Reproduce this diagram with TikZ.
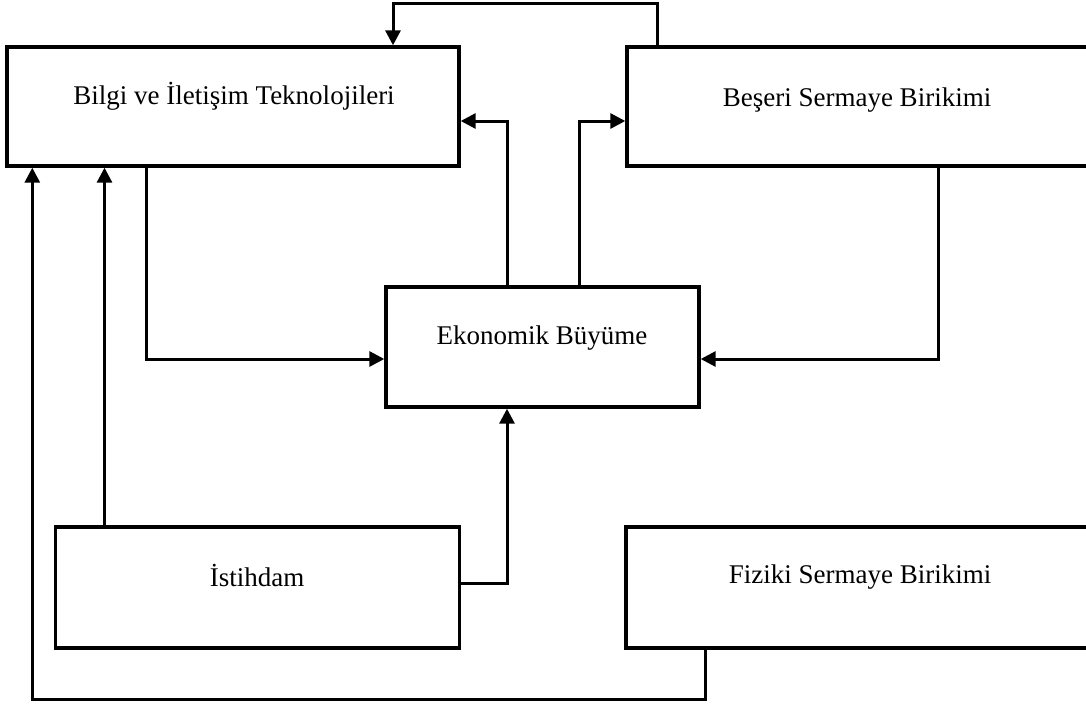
\documentclass[tikz,border=0pt]{standalone}
\usepackage{fontspec}
\setmainfont{Liberation Serif}
\usetikzlibrary{arrows.meta}
\tikzset{
  box/.style={draw=black, line width=3.4pt, rectangle, inner sep=0pt},
  lbl/.style={anchor=base, inner sep=0pt, font=\fontsize{27}{31}\selectfont},
  arr/.style={draw=black, line width=3pt, -{Triangle[length=15pt,width=15pt]}}
}
\begin{document}
\begin{tikzpicture}[x=1pt, y=-1pt]
  \useasboundingbox (0,0) rectangle (1086,704);

  % boxes (the two right-hand boxes run past the right edge)
  \node[box, minimum width=452pt, minimum height=119pt] (bilgi) at (233,106.5) {};
  \node[box, minimum width=465pt, minimum height=119pt] (beseri) at (859.5,106.5) {};
  \node[box, minimum width=313pt, minimum height=120pt] (ekonomik) at (542.5,347) {};
  \node[box, minimum width=404pt, minimum height=121pt] (istihdam) at (257.5,587.5) {};
  \node[box, minimum width=466pt, minimum height=121pt] (fiziki) at (859,587.5) {};

  % box texts
  \node[lbl] (bilgi-t) at (234,104) {Bilgi ve İletişim Teknolojileri};
  \node[lbl] (beseri-t) at (857,106) {Beşeri Sermaye Birikimi};
  \node[lbl] (ekonomik-t) at (542,344) {Ekonomik Büyüme};
  \node[lbl] (istihdam-t) at (257,586) {İstihdam};
  \node[lbl] (fiziki-t) at (860,583) {Fiziki Sermaye Birikimi};

  % bend points of the connectors
  \coordinate (topL) at (393,3);
  \coordinate (topR) at (657,3);
  \coordinate (kL) at (507,121);
  \coordinate (kR) at (579,121);
  \coordinate (bL) at (146.5,359);
  \coordinate (bR) at (938,359);
  \coordinate (iU) at (104.5,300);
  \coordinate (iR) at (507,583);
  \coordinate (fB) at (705,699);
  \coordinate (fL) at (32.3,699);

  % connectors
  \draw[arr] (beseri.north -| topR) -- (topR) -- (topL) -- (bilgi.north -| topL);
  \draw[arr] (ekonomik.north -| kL) -- (kL) -- (bilgi.east |- kL);
  \draw[arr] (ekonomik.north -| kR) -- (kR) -- (beseri.west |- kR);
  \draw[arr] (bilgi.south -| bL) -- (bL) -- (ekonomik.west |- bL);
  \draw[arr] (beseri.south -| bR) -- (bR) -- (ekonomik.east |- bR);
  \draw[arr] (istihdam.north -| iU) -- (bilgi.south -| iU);
  \draw[arr] (istihdam.east |- iR) -- (iR) -- (ekonomik.south -| iR);
  \draw[arr] (fiziki.south -| fB) -- (fB) -- (fL) -- (bilgi.south -| fL);
\end{tikzpicture}
\end{document}
